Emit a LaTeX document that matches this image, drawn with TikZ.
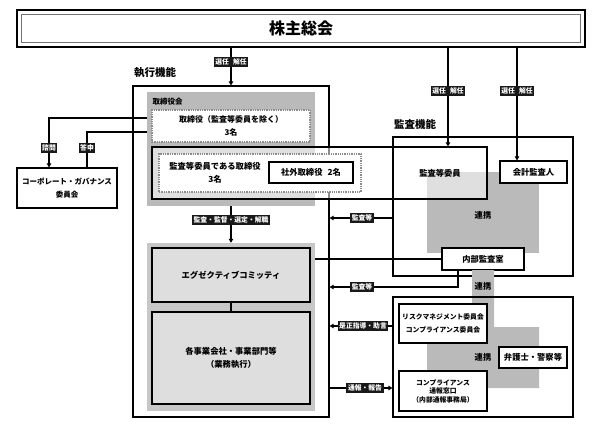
\documentclass[tikz,border=0pt]{standalone}
\usepackage{fontspec}
\setmainfont{Noto Sans CJK JP}
\usetikzlibrary{positioning,calc,arrows.meta}

\begin{document}
\begin{tikzpicture}[x=1pt, y=-1pt,
    box/.style={draw, line width=1.2pt, fill=white, align=center, inner sep=0pt, font=\fontsize{8.3}{13}\selectfont\bfseries},
    grayarea/.style={fill=black!27, inner sep=0pt},
    dotbox/.style={draw=black!45, densely dotted, line width=1.3pt, fill=white, align=center, inner sep=0pt},
    tag/.style={fill=black!90, text=white, font=\fontsize{6.8}{7}\selectfont\bfseries, inner sep=1.6pt},
    conn/.style={line width=1.2pt},
    arr/.style={conn, -{Triangle[length=4pt, width=4.5pt]}},
    title/.style={font=\fontsize{10.5}{12}\selectfont\bfseries},
    txt/.style={font=\fontsize{8.3}{13}\selectfont\bfseries, align=center}
  ]
\useasboundingbox (0,0) rectangle (600,424);

% General meeting of shareholders
\node[draw, line width=1.5pt, minimum width=568pt, minimum height=37pt, font=\fontsize{16}{18}\selectfont\bfseries] (sh) at (301,28.5) {株主総会};
\draw[black!55, line width=1.1pt] ($(sh.north west)+(5,5)$) rectangle ($(sh.south east)+(-5,-5)$);

% Execution side
\node[title] (exet) at (155,73) {執行機能};
\node[draw, line width=1.2pt, fill=white, minimum width=196pt, minimum height=331pt] (exe) at (231,251.5) {};
\node[grayarea, minimum width=168pt, minimum height=114pt] (bod) at (231,149) {};
\node[txt, font=\fontsize{7.5}{9}\selectfont\bfseries, anchor=north west] (bodt) at (149,95) {取締役会};
\node[dotbox, minimum width=158pt, minimum height=32pt, font=\fontsize{8}{13}\selectfont\bfseries] (dir) at (231,126) {取締役（監査等委員を除く）\\3名};

% Audit side
\node[title] (audt) at (415,124) {監査機能};
\node[grayarea, minimum width=112pt, minimum height=81pt] (ren1) at (483,212.5) {};
\node[box, fill opacity=0.55, text opacity=1, minimum width=335pt, minimum height=52pt] (ac) at (319.5,173) {};
\node[txt] (acl) at (440,173) {監査等委員};
\node[dotbox, minimum width=202pt, minimum height=38pt] (acd) at (260,173) {};
\node[txt] (acdt) at (215,173) {監査等委員である取締役\\3名};
\node[box, minimum width=84pt, minimum height=21pt] (out) at (311,172.5) {社外取締役\hspace{0.6em}2名};
\node[draw, line width=1.2pt, minimum width=180pt, minimum height=139pt] (aud) at (483,206.5) {};
\node[txt] (ren1t) at (483,215) {連携};
\node[box, minimum width=67pt, minimum height=22pt] (kai) at (533.5,172) {会計監査人};
\node[box, minimum width=82pt, minimum height=22pt] (nai) at (483,259) {内部監査室};

% Corporate governance committee
\node[box, font=\fontsize{7.5}{13}\selectfont\bfseries, minimum width=100pt, minimum height=40pt] (cg) at (67,188) {コーポレート・ガバナンス\\委員会};

% Executive committee and business units
\node[grayarea, fill=black!22, minimum width=168pt, minimum height=168pt] (exg) at (231,327) {};
\node[box, fill=black!13, minimum width=158pt, minimum height=54pt] (exc) at (231,275) {エグゼクティブコミッティ};
\node[box, fill=black!13, minimum width=158pt, minimum height=92pt] (biz) at (231,358) {各事業会社・事業部門等\\（業務執行）};

% Compliance side
\fill[black!27] (472,270) -- (494,270) -- (494,327) -- (539,327) -- (539,388) -- (427,388) -- (427,327) -- (472,327) -- cycle;
\node[draw, line width=1.2pt, minimum width=180pt, minimum height=120pt] (cmp) at (483,357) {};
\node[txt] (ren2t) at (483,286) {連携};
\node[txt] (ren3t) at (483,357) {連携};
\node[box, font=\fontsize{6.8}{13}\selectfont\bfseries, minimum width=88pt, minimum height=39pt] (risk) at (443,323.5) {リスクマネジメント委員会\\コンプライアンス委員会};
\node[box, minimum width=68pt, minimum height=21pt] (law) at (533,357.5) {弁護士・警察等};
\node[box, font=\fontsize{6.8}{8.5}\selectfont\bfseries, minimum width=88pt, minimum height=40pt] (win) at (443,391) {コンプライアンス\\通報窓口\\（内部通報事務局）};

% Connectors
\draw[arr] (sh.south -| exe.north) -- (exe.north);
\coordinate (s1) at (448,47);
\coordinate (s2) at (517,47);
\draw[arr] (s1) -- (s1 |- ac.north);
\draw[arr] (s2) -- (s2 |- kai.north);
\draw[arr] (bod.west |- 0,118) -| ([xshift=-18pt]cg.north);
\draw[conn] ([xshift=20pt]cg.north) |- (bod.west |- 0,132);
\draw[arr] (bod.south) -- (exg.north);
\draw[conn] (exc.south) -- (biz.north);
\draw[conn] (exg.east |- nai.west) -- (nai.west);
\draw[arr] (aud.west |- 0,218) -- (exe.east |- 0,218);
\draw[arr] ([xshift=-25pt]nai.south) |- (exe.east |- 0,287);
\draw[arr] (cmp.west |- 0,326) -- (exe.east |- 0,326);
\draw[arr] (exe.east |- 0,388) -- (cmp.west |- 0,388);

% Connector tags
\node[tag] (t0) at (231,62) {選任\hspace{0.6em}解任};
\node[tag] (t1) at (448,91) {選任\hspace{0.6em}解任};
\node[tag] (t2) at (517,91) {選任\hspace{0.6em}解任};
\node[tag] (t3) at (49,148) {諮問};
\node[tag] (t4) at (87,148) {答申};
\node[tag] (t5) at (231,220) {監査・監督・選定・解職};
\node[tag] (t6) at (362,218) {監査等};
\node[tag] (t7) at (362,287) {監査等};
\node[tag] (t8) at (363,326) {是正指導・助言};
\node[tag] (t9) at (365,388) {通報・報告};

\end{tikzpicture}
\end{document}
